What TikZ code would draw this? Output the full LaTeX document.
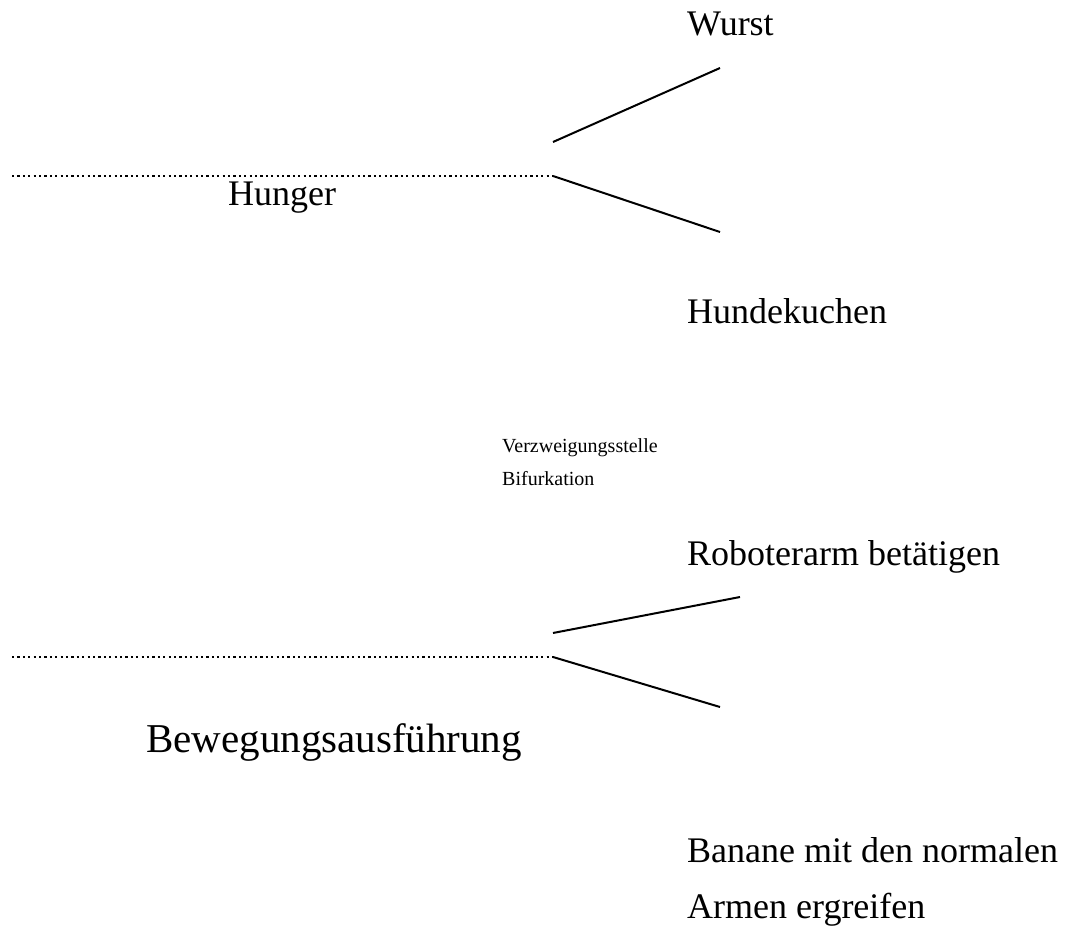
\documentclass[tikz,border=0pt]{standalone}
\usepackage{fontspec}
\setmainfont{Liberation Serif}
\begin{document}
\begin{tikzpicture}[x=1pt,y=-1pt,
  label node/.style={anchor=base west,inner sep=0pt,font=\fontsize{36}{40}\selectfont},
  big node/.style={anchor=base west,inner sep=0pt,font=\fontsize{41}{46}\selectfont},
  small node/.style={anchor=base west,inner sep=0pt,font=\fontsize{20}{24}\selectfont},
  branch/.style={line width=2pt},
  base line/.style={line width=2.2pt,dash pattern=on 2.2pt off 3.2pt}]

  \useasboundingbox (0,0) rectangle (1070,928);

  % Hunger
  \coordinate (h0) at (12,176);
  \coordinate (h1) at (553,176);
  \coordinate (h2) at (553,142);
  \coordinate (h3) at (720,68);
  \coordinate (h4) at (720,232);
  \node[label node] (wurst) at (687,36) {Wurst};
  \node[label node] (hunger) at (228,205) {Hunger};
  \node[label node] (kuchen) at (687,323) {Hundekuchen};

  \draw[base line] (h0) -- (h1);
  \draw[branch] (h2) -- (h3);
  \draw[branch] (h1) -- (h4);

  % Verzweigung
  \node[small node] (verz) at (502,452) {Verzweigungsstelle};
  \node[small node] (bif) at (502,485) {Bifurkation};

  % Bewegung
  \coordinate (b0) at (12,657);
  \coordinate (b1) at (553,657);
  \coordinate (b2) at (553,633);
  \coordinate (b3) at (740,597);
  \coordinate (b4) at (720,707);
  \node[label node] (robot) at (687,565) {Roboterarm betätigen};
  \node[big node] (beweg) at (146,752) {Bewegungsausführung};
  \node[label node] (banane) at (687,862) {Banane mit den normalen};
  \node[label node] (armen) at (687,918) {Armen ergreifen};

  \draw[base line] (b0) -- (b1);
  \draw[branch] (b2) -- (b3);
  \draw[branch] (b1) -- (b4);
\end{tikzpicture}
\end{document}
